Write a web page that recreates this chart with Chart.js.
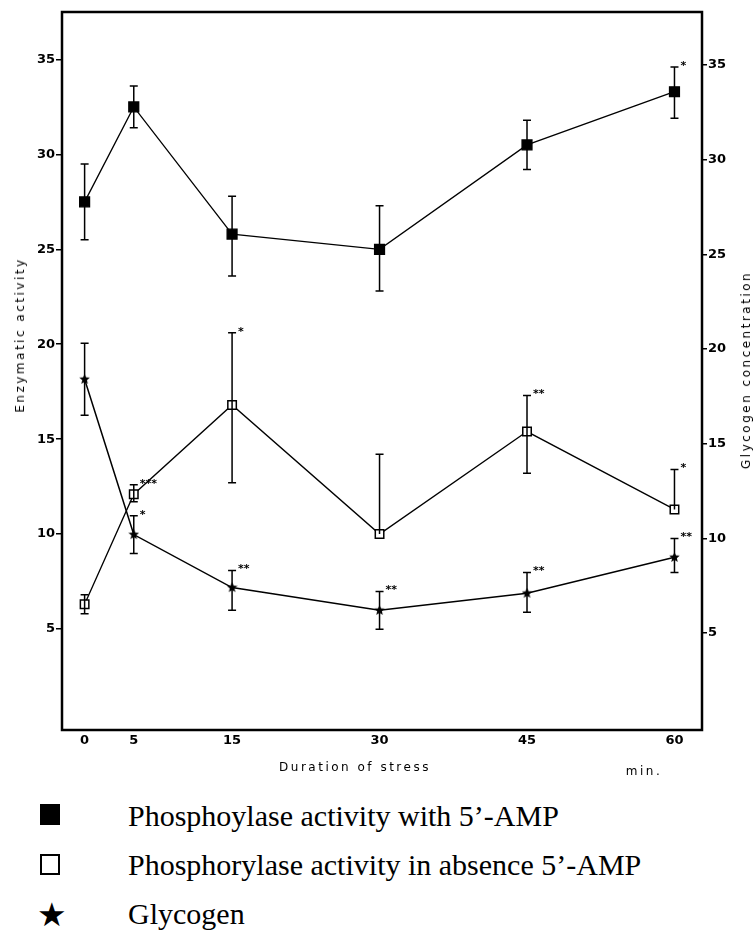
<!DOCTYPE html>
<html>
<head>
<meta charset="utf-8">
<script src="https://cdn.jsdelivr.net/npm/chart.js@4.4.0/dist/chart.umd.min.js"></script>
<style>
  body { margin: 0; background: #fff; width: 753px; height: 937px; overflow: hidden; position: relative; }
  #wrap { position: absolute; left: 0; top: 0; width: 753px; height: 790px; }
  .title { position: absolute; font-family: "DejaVu Sans", sans-serif; font-size: 12px; letter-spacing: 2.5px; color: #000; white-space: nowrap; transform: translate(-50%, -50%); }
  .rot { transform: translate(-50%, -50%) rotate(-90deg); }
  .leg { position: absolute; left: 128px; font-family: "Liberation Serif", serif; font-size: 30px; color: #000; white-space: nowrap; line-height: 30px; }
  .sym { position: absolute; left: 40px; width: 20px; height: 21px; box-sizing: border-box; border: 2px solid #000; }
</style>
</head>
<body>
<div id="wrap"><canvas id="chart"></canvas></div>

<div class="title rot" style="left:20px; top:335px;">Enzymatic activity</div>
<div class="title rot" style="left:746px; top:370px;">Glycogen concentration</div>
<div class="title" style="left:355px; top:767px;">Duration of stress</div>
<div class="title" style="left:644px; top:771px;">min.</div>

<div class="sym" style="top:804px; background:#000;"></div>
<div class="leg" style="top:801px;">Phosphoylase activity with 5’-AMP</div>
<div class="sym" style="top:854px; background:#fff;"></div>
<div class="leg" style="top:850px;">Phosphorylase activity in absence 5’-AMP</div>
<div class="leg" style="left:37px; top:900px; font-family:'DejaVu Sans', sans-serif; font-size:33px;">★</div>
<div class="leg" style="top:899px;">Glycogen</div>

<script>
// time points (min)
const minutes = [0, 5, 15, 30, 45, 60];

// phosphorylase activity with 5'-AMP (left axis)
const withAmp = [27.5, 32.5, 25.8, 25.0, 30.5, 33.3];
const withAmpHi = [29.5, 33.6, 27.8, 27.3, 31.8, 34.6];
const withAmpLo = [25.5, 31.4, 23.6, 22.8, 29.2, 31.9];
const withAmpSig = ['', '', '', '', '', '*'];

// phosphorylase activity without 5'-AMP (left axis)
const noAmp = [6.3, 12.1, 16.8, 10.0, 15.4, 11.3];
const noAmpHi = [6.8, 12.6, 20.6, 14.2, 17.3, 13.4];
const noAmpLo = [5.8, 11.7, 12.7, 10.0, 13.2, 11.3];
const noAmpSig = ['', '***', '*', '', '**', '*'];

// glycogen concentration (right axis)
const glycogen = [18.4, 10.2, 7.4, 6.2, 7.1, 9.0];
const glycogenHi = [20.3, 11.2, 8.3, 7.2, 8.2, 10.0];
const glycogenLo = [16.5, 9.2, 6.2, 5.2, 6.1, 8.2];
const glycogenSig = ['', '*', '**', '**', '**', '**'];

// tick labels
const xTicks = [0, 5, 15, 30, 45, 60];
const leftTicks = [5, 10, 15, 20, 25, 30, 35];
const rightTicks = [5, 10, 15, 20, 25, 30, 35];

// small filled star used as point style for glycogen
function makeStar(size) {
    const c = document.createElement('canvas');
    c.width = size; c.height = size;
    const g = c.getContext('2d');
    const cx = size / 2, cy = size / 2, R = size / 2, r = R * 0.45;
    g.beginPath();
    for (let i = 0; i < 10; i++) {
        const rad = i % 2 === 0 ? R : r;
        const a = -Math.PI / 2 + i * Math.PI / 5;
        g.lineTo(cx + rad * Math.cos(a), cy + rad * Math.sin(a));
    }
    g.closePath();
    g.fillStyle = '#000';
    g.fill();
    return c;
}

function pts(values) {
    return minutes.map((m, i) => ({ x: m, y: values[i] }));
}

const errorInfo = [
    { hi: withAmpHi, lo: withAmpLo, sig: withAmpSig },
    { hi: noAmpHi, lo: noAmpLo, sig: noAmpSig },
    { hi: glycogenHi, lo: glycogenLo, sig: glycogenSig }
];

// error bars + significance stars, drawn through the dataset's own y scale
const errorBars = {
    id: 'errorBars',
    afterDatasetsDraw(chart) {
        const ctx = chart.ctx;
        const xs = chart.scales.x;
        ctx.save();
        ctx.strokeStyle = '#000';
        ctx.fillStyle = '#000';
        ctx.lineWidth = 1.5;
        ctx.font = 'bold 11px "DejaVu Sans"';
        chart.data.datasets.forEach((ds, d) => {
            const ys = chart.scales[ds.yAxisID];
            const info = errorInfo[d];
            minutes.forEach((m, i) => {
                const x = xs.getPixelForValue(m);
                const yHi = ys.getPixelForValue(info.hi[i]);
                const yLo = ys.getPixelForValue(info.lo[i]);
                ctx.beginPath();
                ctx.moveTo(x, yHi); ctx.lineTo(x, yLo);
                if (info.hi[i] !== ds.data[i].y) { ctx.moveTo(x - 4, yHi); ctx.lineTo(x + 4, yHi); }
                if (info.lo[i] !== ds.data[i].y) { ctx.moveTo(x - 4, yLo); ctx.lineTo(x + 4, yLo); }
                ctx.stroke();
                if (info.sig[i]) {
                    ctx.textBaseline = 'middle';
                    ctx.fillText(info.sig[i], x + 6, yHi - 1);
                }
            });
        });
        ctx.restore();
    }
};

// box around the plot
const frame = {
    id: 'frame',
    afterDraw(chart) {
        const a = chart.chartArea;
        const ctx = chart.ctx;
        ctx.save();
        ctx.strokeStyle = '#000';
        ctx.lineWidth = 2.5;
        ctx.strokeRect(a.left, a.top, a.right - a.left, a.bottom - a.top);
        ctx.restore();
    }
};

const tickFont = { family: '"DejaVu Sans", sans-serif', size: 13, weight: 'bold' };

new Chart(document.getElementById('chart'), {
    type: 'line',
    data: {
        datasets: [
            {
                label: 'Phosphoylase activity with 5’-AMP',
                data: pts(withAmp),
                yAxisID: 'y',
                borderColor: '#000',
                borderWidth: 1.3,
                pointStyle: 'rect',
                pointRadius: 7,
                pointBackgroundColor: '#000',
                pointBorderColor: '#000',
                tension: 0
            },
            {
                label: 'Phosphorylase activity in absence 5’-AMP',
                data: pts(noAmp),
                yAxisID: 'y',
                borderColor: '#000',
                borderWidth: 1.3,
                pointStyle: 'rect',
                pointRadius: 6,
                pointBorderWidth: 1.5,
                pointBackgroundColor: '#fff',
                pointBorderColor: '#000',
                tension: 0
            },
            {
                label: 'Glycogen',
                data: pts(glycogen),
                yAxisID: 'y2',
                borderColor: '#000',
                borderWidth: 1.5,
                pointStyle: makeStar(11),
                tension: 0
            }
        ]
    },
    options: {
        responsive: true,
        maintainAspectRatio: false,
        animation: false,
        layout: { padding: { top: 12, left: 0, right: 0, bottom: 0 } },
        plugins: {
            legend: { display: false },
            tooltip: { enabled: false }
        },
        scales: {
            x: {
                type: 'linear',
                min: -2.3,
                max: 62.8,
                afterBuildTicks: s => { s.ticks = xTicks.map(v => ({ value: v })); },
                afterFit: s => { s.height = 60; },
                grid: { display: false, drawTicks: false },
                border: { display: false },
                ticks: { color: '#000', font: tickFont, padding: 3, maxRotation: 0 }
            },
            y: {
                position: 'left',
                min: -0.32,
                max: 37.5,
                afterBuildTicks: s => { s.ticks = leftTicks.map(v => ({ value: v })); },
                afterFit: s => { s.width = 62; },
                grid: { drawOnChartArea: false, tickLength: 6, color: '#000', lineWidth: 1.5 },
                border: { display: false },
                ticks: { color: '#000', font: tickFont, padding: 1 }
            },
            y2: {
                position: 'right',
                min: -0.12,
                max: 37.8,
                afterBuildTicks: s => { s.ticks = rightTicks.map(v => ({ value: v })); },
                afterFit: s => { s.width = 51; },
                grid: { drawOnChartArea: false, tickLength: 5, color: '#000', lineWidth: 1.5 },
                border: { display: false },
                ticks: { color: '#000', font: tickFont, padding: 1 }
            }
        }
    },
    plugins: [errorBars, frame]
});
</script>
</body>
</html>
